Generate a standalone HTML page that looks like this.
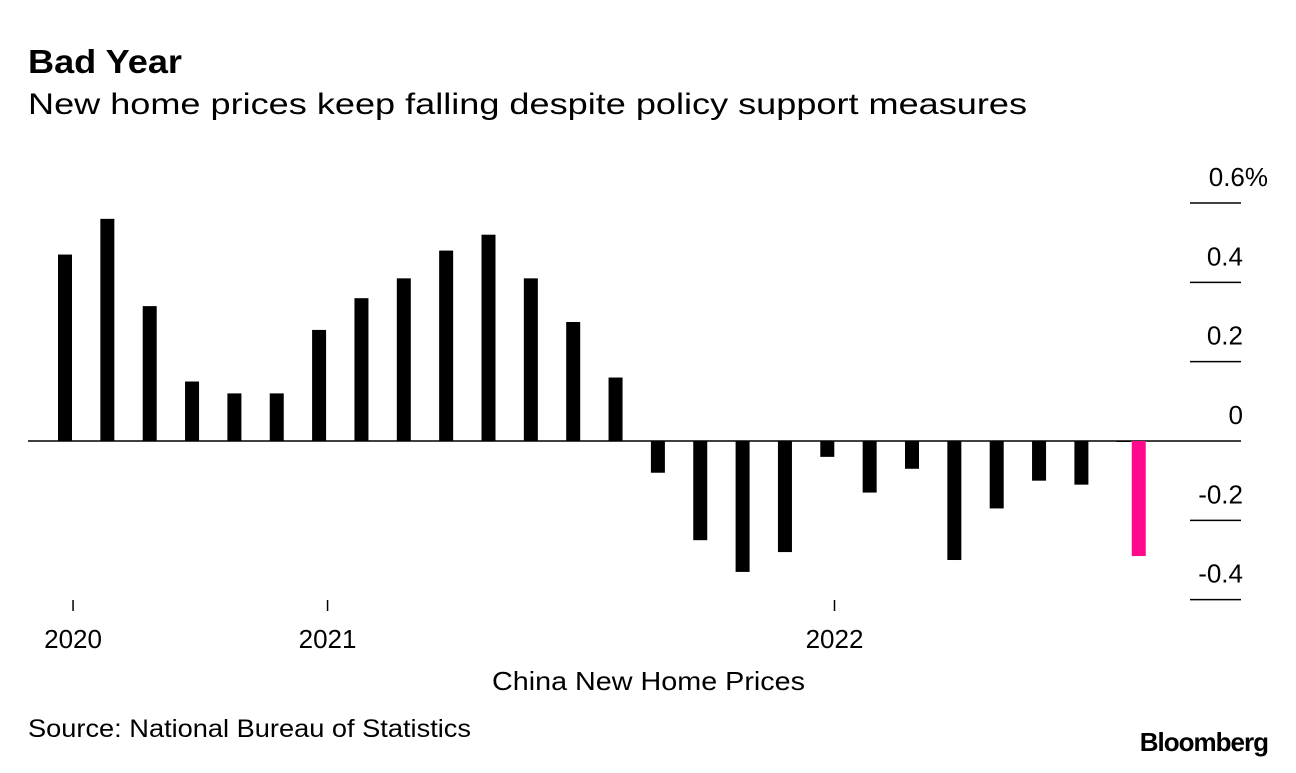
<!DOCTYPE html>
<html><head><meta charset="utf-8"><style>
body{margin:0;background:#fff;font-family:"Liberation Sans",sans-serif;}
svg text{font-family:"Liberation Sans",sans-serif;}
</style></head><body>
<svg width="1296" height="768">
<text x="28" y="73" font-size="33" font-weight="bold" textLength="154" lengthAdjust="spacingAndGlyphs">Bad Year</text>
<text x="28" y="114" font-size="30" textLength="999" lengthAdjust="spacingAndGlyphs">New home prices keep falling despite policy support measures</text>
<g id="plot"></g>
<text x="492" y="690" font-size="26" textLength="313" lengthAdjust="spacingAndGlyphs">China New Home Prices</text>
<text x="28" y="737" font-size="25" textLength="443" lengthAdjust="spacingAndGlyphs">Source: National Bureau of Statistics</text>
<text x="1268" y="751" font-size="26" font-weight="bold" text-anchor="end" letter-spacing="-1">Bloomberg</text>
</svg>
<script>
const values=[0.47,0.56,0.34,0.15,0.12,0.12,0.28,0.36,0.41,0.48,0.52,0.41,0.30,0.16,-0.08,-0.25,-0.33,-0.28,-0.04,-0.13,-0.07,-0.30,-0.17,-0.10,-0.11,0];
const highlightValue=-0.29;
const yTicks=[0.6,0.4,0.2,0,-0.2,-0.4];
const yTickLabels=["0.6%","0.4","0.2","0","-0.2","-0.4"];
const xTickPos=[0.19,6.2,18.17];
const xTickLabels=["2020","2021","2022"];
const NS="http://www.w3.org/2000/svg";
const g=document.getElementById('plot');
const y=v=>441-v*396.7;
const x=i=>65+i*42.35;
function mk(t,a){const e=document.createElementNS(NS,t);for(const k in a)e.setAttribute(k,a[k]);g.appendChild(e);return e;}
const zl=mk('line',{x1:28,x2:1190,y1:y(0),y2:y(0),stroke:'#000','stroke-width':1.5});


values.forEach((v,i)=>{
 const h=Math.max(Math.abs(y(v)-y(0)),1);
 const r=mk('rect',{x:x(i)-7,y:Math.min(y(v),y(0)),width:14,height:h,fill:'#000'});
 
 
});
const hr=mk('rect',{x:x(values.length-1)+15-7,y:y(0),width:14,height:y(highlightValue)-y(0),fill:'#ff0a8c'});


yTicks.forEach((v,i)=>{
 const l=mk('line',{x1:1190,x2:1241,y1:y(v),y2:y(v),stroke:'#000','stroke-width':1.5});
 
 
 const pct=yTickLabels[i].endsWith('%');
 const t=mk('text',{x:pct?1268:1243,y:y(v)-17,'font-size':26,'text-anchor':'end'});
 t.textContent=yTickLabels[i];
 
 
});
xTickPos.forEach((p,i)=>{
 const l=mk('line',{x1:x(p),x2:x(p),y1:600,y2:611,stroke:'#000','stroke-width':1.5});
 
 
 const t=mk('text',{x:x(p),y:648,'font-size':26,'text-anchor':'middle'});
 t.textContent=xTickLabels[i];
 
 
});
</script>
</body></html>
